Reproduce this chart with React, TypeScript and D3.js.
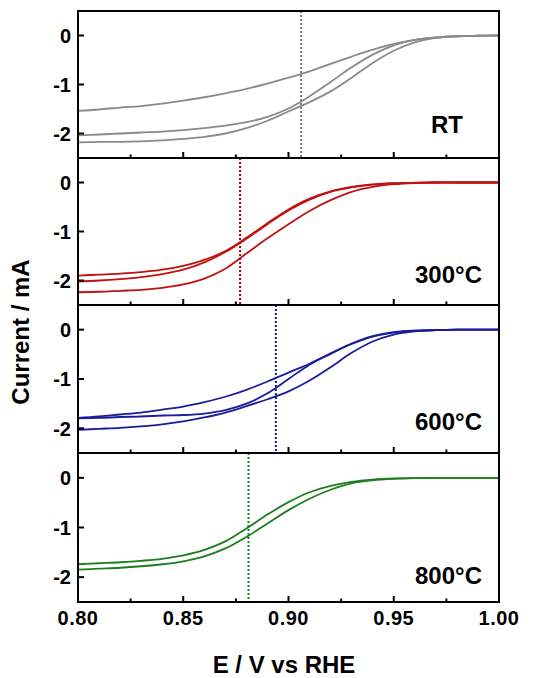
import React from "react";
import * as d3 from "d3";

// ---------- data ----------
const potential = [0.80, 0.81, 0.82, 0.83, 0.84, 0.85, 0.86, 0.87, 0.88, 0.89, 0.90, 0.91, 0.92, 0.93, 0.94, 0.95, 0.96, 0.97, 0.98, 0.99, 1.00];

const rtA = [-1.54, -1.51, -1.47, -1.44, -1.39, -1.33, -1.26, -1.18, -1.09, -0.98, -0.86, -0.73, -0.58, -0.43, -0.29, -0.17, -0.09, -0.04, -0.015, -0.005, 0];
const rtB = [-2.04, -2.02, -2.00, -1.98, -1.96, -1.93, -1.89, -1.84, -1.77, -1.66, -1.49, -1.24, -0.95, -0.65, -0.39, -0.20, -0.09, -0.04, -0.015, -0.005, 0];
const rtC = [-2.18, -2.17, -2.17, -2.16, -2.14, -2.11, -2.07, -2.00, -1.89, -1.74, -1.55, -1.36, -1.14, -0.86, -0.56, -0.31, -0.14, -0.05, -0.015, -0.005, 0];

const c300A = [-1.90, -1.88, -1.86, -1.83, -1.78, -1.70, -1.58, -1.40, -1.13, -0.83, -0.55, -0.33, -0.18, -0.09, -0.04, -0.015, -0.005, 0, 0, 0, 0];
const c300B = [-2.02, -2.00, -1.97, -1.93, -1.87, -1.78, -1.63, -1.42, -1.15, -0.85, -0.57, -0.35, -0.19, -0.10, -0.045, -0.018, -0.006, 0, 0, 0, 0];
const c300C = [-2.24, -2.23, -2.21, -2.19, -2.15, -2.08, -1.96, -1.76, -1.45, -1.14, -0.85, -0.58, -0.36, -0.19, -0.09, -0.035, -0.01, 0, 0, 0, 0];

const c600A = [-1.79, -1.76, -1.72, -1.68, -1.62, -1.56, -1.47, -1.36, -1.22, -1.05, -0.87, -0.69, -0.49, -0.29, -0.14, -0.06, -0.02, -0.01, 0, 0, 0];
const c600B = [-1.80, -1.79, -1.77, -1.76, -1.74, -1.73, -1.70, -1.63, -1.50, -1.29, -1.00, -0.71, -0.48, -0.28, -0.13, -0.05, -0.02, -0.01, 0, 0, 0];
const c600C = [-2.03, -2.01, -1.99, -1.96, -1.92, -1.86, -1.78, -1.68, -1.55, -1.41, -1.25, -1.03, -0.76, -0.47, -0.24, -0.10, -0.035, -0.01, 0, 0, 0];

const c800A = [-1.74, -1.72, -1.70, -1.67, -1.63, -1.56, -1.45, -1.28, -1.02, -0.74, -0.49, -0.29, -0.16, -0.08, -0.035, -0.012, -0.004, 0, 0, 0, 0];
const c800B = [-1.85, -1.83, -1.81, -1.78, -1.74, -1.68, -1.58, -1.42, -1.19, -0.92, -0.65, -0.42, -0.24, -0.11, -0.05, -0.02, -0.005, 0, 0, 0, 0];

const panelLabels = ["RT", "300°C", "600°C", "800°C"];
const panelSeries = [[rtA, rtB, rtC], [c300A, c300B, c300C], [c600A, c600B, c600C], [c800A, c800B]];
const onsetPotentials = [0.906, 0.877, 0.894, 0.881];
const panelColors = ["#8a8a8a", "#c01212", "#1c1c9a", "#1f7d1f"];
const dotColors = ["#7a7a7a", "#b00000", "#14148c", "#178017"];

const xMajorTicks = [0.80, 0.85, 0.90, 0.95, 1.00];
const xMinorTicks = [0.825, 0.875, 0.925, 0.975];
const yTicks = [0, -1, -2];

// ---------- layout ----------
const W = 547, H = 678;
const left = 78, right = 499;
const panelTops = [11, 158, 305, 453];
const panelBottom = 602;
const labelOffsets = [122, 125, 125, 131];
const labelRight = [463, 482, 482, 482];
const font = "'Liberation Sans', Arial, Helvetica, sans-serif";

export default function App() {
  const x = d3.scaleLinear().domain([0.8, 1.0]).range([left, right]);
  const panels = panelTops.map((top, i) => {
    const bottom = i < 3 ? panelTops[i + 1] : panelBottom;
    const y = d3.scaleLinear().domain([-2.5, 0.5]).range([bottom, top]);
    return { top, bottom, y };
  });

  return (
    <svg width={W} height={H} style={{ position: "absolute", left: 0, top: 0, background: "#fff" }} fontFamily={font}>
      <rect x={0} y={0} width={W} height={H} fill="#fff" />
      {panels.map((p, i) => {
        const line = d3
          .line<number>()
          .x((_, k) => x(potential[k]))
          .y((v) => p.y(v))
          .curve(d3.curveCatmullRom.alpha(0.5));
        return (
          <g key={i}>
            <defs>
              <clipPath id={`clip${i}`}>
                <rect x={left} y={p.top} width={right - left} height={p.bottom - p.top} />
              </clipPath>
            </defs>
            <g clipPath={`url(#clip${i})`}>
              {panelSeries[i].map((s, j) => (
                <path key={j} d={line(s) || ""} fill="none" stroke={panelColors[i]} strokeWidth={1.8} />
              ))}
            </g>
            <line
              x1={x(onsetPotentials[i])}
              x2={x(onsetPotentials[i])}
              y1={p.top}
              y2={p.bottom}
              stroke={dotColors[i]}
              strokeWidth={2}
              strokeDasharray="2,2"
            />
            {xMajorTicks.map((t) => (
              <line key={"M" + t} x1={x(t)} x2={x(t)} y1={p.bottom} y2={p.bottom - 6} stroke="#000" strokeWidth={2} />
            ))}
            {xMinorTicks.map((t) => (
              <line key={"m" + t} x1={x(t)} x2={x(t)} y1={p.bottom} y2={p.bottom - 3.5} stroke="#000" strokeWidth={2} />
            ))}
            {yTicks.map((t) => (
              <g key={"y" + t}>
                <line x1={left} x2={left + 6} y1={p.y(t)} y2={p.y(t)} stroke="#000" strokeWidth={2} />
                <text
                  x={left - 7}
                  y={p.y(t)}
                  dy="0.36em"
                  textAnchor="end"
                  fontSize={20}
                  fontWeight="bold"
                  fill="#000"
                >
                  {t}
                </text>
              </g>
            ))}
            <rect x={left} y={p.top} width={right - left} height={p.bottom - p.top} fill="none" stroke="#000" strokeWidth={2} />
            <text
              x={labelRight[i]}
              y={p.top + labelOffsets[i]}
              textAnchor="end"
              fontSize={24}
              fontWeight="bold"
              fill="#000"
            >
              {panelLabels[i]}
            </text>
          </g>
        );
      })}
      {xMajorTicks.map((t) => (
        <text key={"xl" + t} x={x(t)} y={625} textAnchor="middle" fontSize={20} fontWeight="bold" letterSpacing={0.5} fill="#000">
          {t.toFixed(2)}
        </text>
      ))}
      <text x={284} y={673} textAnchor="middle" fontSize={24} fontWeight="bold" fill="#000">
        E / V vs RHE
      </text>
      <text transform="translate(29,332) rotate(-90)" textAnchor="middle" fontSize={24} fontWeight="bold" fill="#000">
        Current / mA
      </text>
    </svg>
  );
}
